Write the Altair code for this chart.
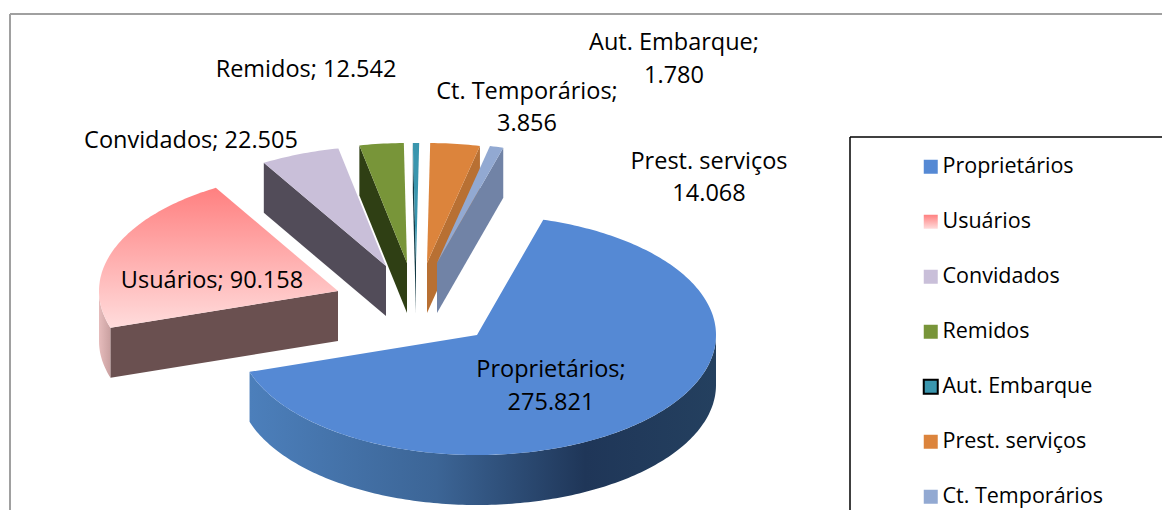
import math
import altair as alt
import pandas as pd

# --- data
names = ["Proprietários", "Usuários", "Convidados", "Remidos", "Aut. Embarque", "Prest. serviços", "Ct. Temporários"]
values = [275821, 90158, 22505, 12542, 1780, 14068, 3856]
label_lines = [
    ["Proprietários;", "275.821"], ["Usuários; 90.158"], ["Convidados; 22.505"], ["Remidos; 12.542"],
    ["Aut. Embarque;", "1.780"], ["Prest. serviços", "14.068"], ["Ct. Temporários;", "3.856"],
]
# --- styling
label_pos = [[(551, 370), (551, 403)], [(212, 281)], [(191, 141)], [(306, 70)],
             [(674, 43), (674, 76)], [(709, 162), (709, 194)], [(527, 92), (527, 124)]]
apex = [(477, 335), (338, 291), (386, 266), (407, 263), (416, 263), (427, 263), (437, 263)]
cut_edge = [None, "start", "start", "start", "start", "end", "end"]
legend_colors = ["#5589d4", "#ff9c9c", "#c9bfd9", "#789539", "#3a96ae", "#dc843c", "#92a9d2"]
wall_colors = [None, "#6a5050", "#524c59", "#2f3f14", "#123a45", "#b87033", "#7183a6"]
RX, RY, DEPTH, START = 239, 120, 50, -73.9
OFF = 8
FONT = "Open Sans"


def vgrad(c0, c1):
    return {"gradient": "linear", "x1": 0, "y1": 0, "x2": 0, "y2": 1,
            "stops": [{"offset": 0, "color": c0}, {"offset": 1, "color": c1}]}


top_fills = list(legend_colors)
top_fills[1] = vgrad("#ff8080", "#ffdcdc")
prop_wall = {"gradient": "linear", "x1": 0, "y1": 0, "x2": 1, "y2": 0,
             "stops": [{"offset": 0, "color": "#4c7fbb"}, {"offset": 0.4, "color": "#3c6596"},
                       {"offset": 0.72, "color": "#1f3658"}, {"offset": 1, "color": "#24405f"}]}
usu_wall = {"gradient": "linear", "x1": 0, "y1": 0, "x2": 1, "y2": 0,
            "stops": [{"offset": 0, "color": "#e6bcbc"}, {"offset": 1, "color": "#c9a0a0"}]}

total = sum(values)
angles = []
a = START
for v in values:
    b = a + v / total * 360
    angles.append((a, b))
    a = b


def pt(i, deg, drop=0):
    t = math.radians(deg)
    x = apex[i][0] + RX * math.cos(t)
    y = apex[i][1] + RY * math.sin(t) + drop
    return [x - OFF, y - OFF]


def arc(i, d0, d1, drop=0):
    n = max(2, int(abs(d1 - d0)) + 1)
    return [pt(i, d0 + (d1 - d0) * k / n, drop) for k in range(n + 1)]


def poly(coords):
    ring = coords + [coords[0]]
    return alt.Data(values=[{"type": "Feature", "properties": {},
                             "geometry": {"type": "Polygon", "coordinates": [ring]}}])


proj = alt.Projection(type="identity", scale=1, translate=[0, 0])


def shape(coords, fill, **kw):
    return alt.Chart(poly(coords)).mark_geoshape(fill=fill, strokeWidth=0, **kw).project(**proj.to_dict())


layers = []
# outer frame and legend box
for (x0, y0, x1, y1, col, w) in [(10, 14, 1170, 14, "#a0a0a0", 2), (10, 14, 10, 518, "#a0a0a0", 2),
                                 (850, 137, 1170, 137, "#000000", 1.5), (850, 137, 850, 518, "#000000", 1.5)]:
    layers.append(alt.Chart(alt.Data(values=[{}])).mark_rule(color=col, strokeWidth=w).encode(
        x=alt.value(x0 - OFF), x2=alt.value(x1 - OFF), y=alt.value(y0 - OFF), y2=alt.value(y1 - OFF)))

for i in [1, 2, 3, 4, 5, 6, 0]:
    a0, a1 = angles[i]
    ax, ay = apex[i][0] - OFF, apex[i][1] - OFF
    if i == 0:
        layers.append(shape(arc(0, 0, a1) + arc(0, a1, 0, DEPTH), prop_wall))
    if i == 1:
        layers.append(shape(arc(1, a0, 180) + arc(1, 180, a0, DEPTH), usu_wall))
    if cut_edge[i]:
        e = a0 if cut_edge[i] == "start" else a1
        o = pt(i, e)
        od = pt(i, e, DEPTH)
        layers.append(shape([o, [ax, ay], [ax, ay + DEPTH], od], wall_colors[i]))
    layers.append(shape([[ax, ay]] + arc(i, a0, a1), top_fills[i]))

# text labels
for lines, poss in zip(label_lines, label_pos):
    for line, (x, y) in zip(lines, poss):
        layers.append(alt.Chart(alt.Data(values=[{}])).mark_text(
            text=line, font=FONT, fontSize=23.5, color="#000000", align="center", baseline="middle"
        ).encode(x=alt.value(x - OFF), y=alt.value(y - OFF)))

# legend
legend_range = list(legend_colors)
legend_range[1] = {"expr": "{gradient:'linear',x1:0,y1:0,x2:0,y2:1,stops:[{offset:0,color:'#ff8080'},{offset:1,color:'#ffdcdc'}]}"}
stroke_range = ["transparent"] * 7
stroke_range[4] = "#000000"
legend = alt.Legend(title=None, orient="none", legendX=920 - OFF, legendY=156 - OFF, symbolType="square",
                    symbolSize=196, symbolStrokeWidth=2, labelFont=FONT, labelFontSize=21.5,
                    labelColor="#000000", rowPadding=32, labelOffset=1, symbolOpacity=1, labelLimit=220)
layers.append(alt.Chart(pd.DataFrame({"slice": names})).mark_square(opacity=0, filled=True).encode(
    x=alt.value(-50), y=alt.value(-50),
    color=alt.Color("slice:N", scale=alt.Scale(domain=names, range=legend_range), legend=legend),
    stroke=alt.Stroke("slice:N", scale=alt.Scale(domain=names, range=stroke_range), legend=legend),
))

chart = alt.layer(*layers).properties(
    width=1154, height=502, padding=0,
    autosize=alt.AutoSizeParams(type="none", contains="padding"),
    background="white",
).configure_view(stroke=None)

chart.save("out.html", embed_options={"renderer": "svg", "actions": False})
